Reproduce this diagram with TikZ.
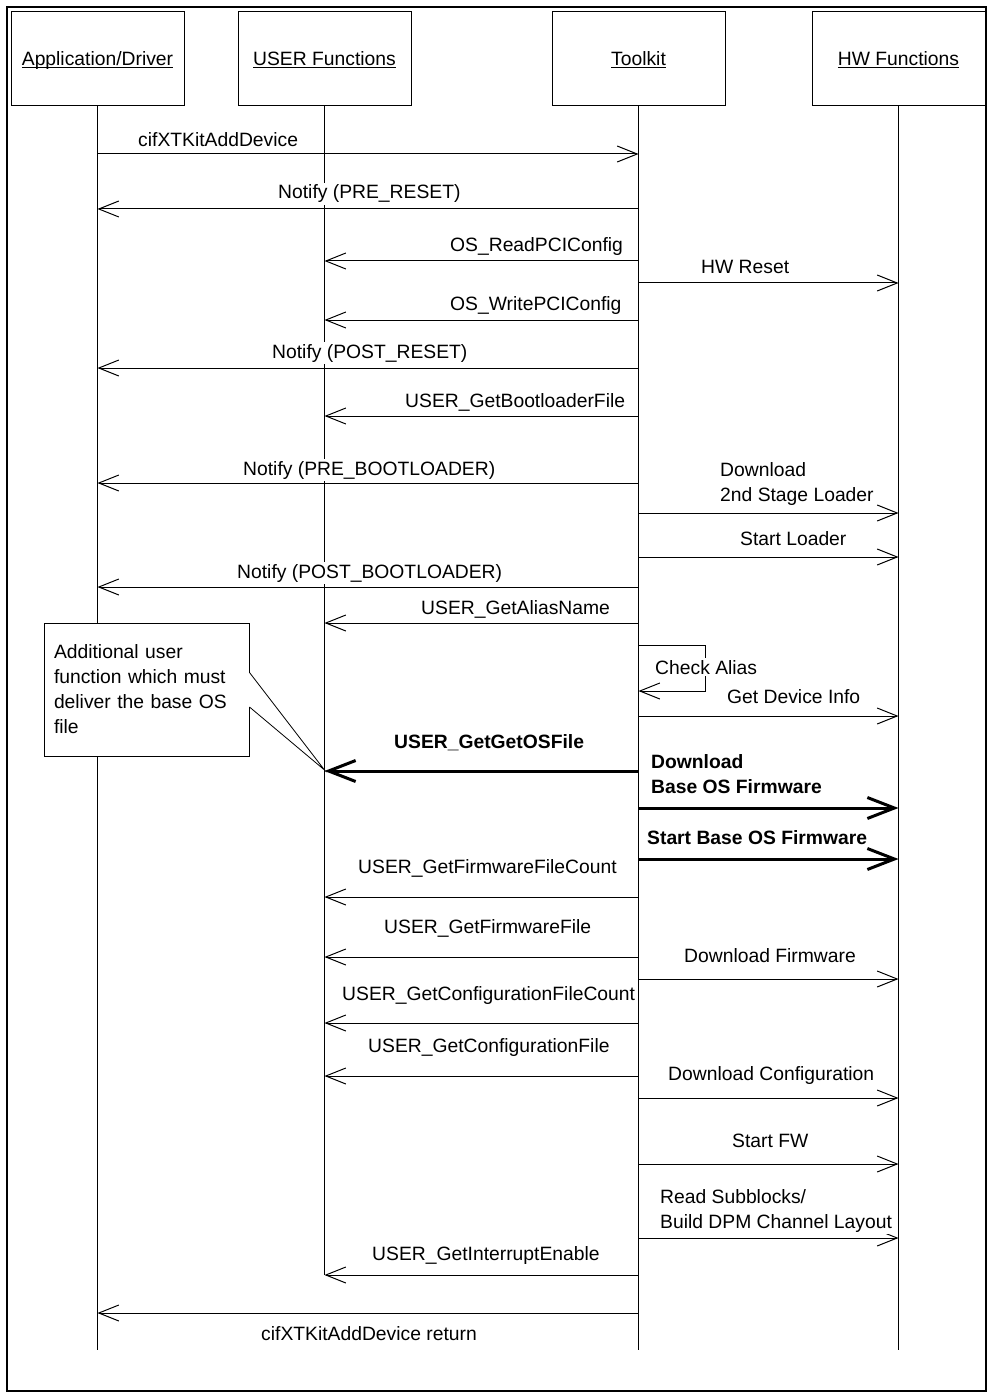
\documentclass[tikz,border=0pt]{standalone}
\usepackage{fontspec}
\setmainfont{Liberation Sans}
\usetikzlibrary{arrows.meta}

\begin{document}
\begin{tikzpicture}[
  x=1pt, y=-1pt,
  every node/.style={font=\fontsize{19.3}{25}\selectfont},
  head/.style={draw, line width=1pt, minimum width=173pt, minimum height=94pt, text height=18pt, text depth=4pt, inner sep=0pt},
  life/.style={line width=1pt},
  msg/.style={line width=1pt, -{Straight Barb[length=20pt,width=16pt]}},
  bigmsg/.style={line width=3pt, -{Straight Barb[length=27pt,width=21pt]}},
  lbl/.style={fill=white, inner xsep=1pt, inner ysep=2pt, anchor=base west, align=left},
  blbl/.style={lbl, font=\fontsize{19.3}{25}\selectfont\bfseries},
  notebox/.style={draw, line width=1pt, fill=white, minimum width=205pt, minimum height=133pt, text width=185pt, inner xsep=10pt, align=left}
]
\useasboundingbox (0,0) rectangle (990,1396);
\draw[line width=2.5pt] (7,7) rectangle (986,1391);

% participants
\node[head] (app) at (97.5,59) {\underline{\smash{Application/Driver}}};
\node[head] (usr) at (324.5,59) {\underline{\smash{USER Functions}}};
\node[head] (tk) at (638.5,59) {\underline{\smash{Toolkit}}};
\node[head] (hw) at (898.5,59) {\underline{\smash{HW Functions}}};

% lifelines
\draw[life] (app.south) -- (app.south |- 0,1350);
\draw[life] (usr.south) -- (usr.south |- 0,1275);
\draw[life] (tk.south) -- (tk.south |- 0,1350);
\draw[life] (hw.south) -- (hw.south |- 0,1350);

% comment box
\node[notebox] (note) at (146.5,689.5) {Additional user\\function which must\\deliver the base OS\\file};
\coordinate (tip) at (usr |- 0,770);
\fill[white] (note.north east) ++(-1.5,50) rectangle ++(3,34);
\draw[line width=0.8pt] (note.north east) ++(0,50) -- (tip) -- ++(-75,-63);

% messages
\draw[msg] (app |- 0,154) -- (tk |- 0,154);
\node[lbl] (addDev) at (137,147) {cifXTKitAddDevice};
\draw[msg] (tk |- 0,209) -- (app |- 0,209);
\node[lbl] (preReset) at (277,199) {Notify (PRE\_RESET)};
\draw[msg] (tk |- 0,261) -- (usr |- 0,261);
\node[lbl] (readPci) at (449,252) {OS\_ReadPCIConfig};
\draw[msg] (tk |- 0,283) -- (hw |- 0,283);
\node[lbl] (hwReset) at (700,274) {HW Reset};
\draw[msg] (tk |- 0,320) -- (usr |- 0,320);
\node[lbl] (writePci) at (449,311) {OS\_WritePCIConfig};
\draw[msg] (tk |- 0,368) -- (app |- 0,368);
\node[lbl] (postReset) at (271,358) {Notify (POST\_RESET)};
\draw[msg] (tk |- 0,416) -- (usr |- 0,416);
\node[lbl] (getBoot) at (404,407) {USER\_GetBootloaderFile};
\draw[msg] (tk |- 0,483) -- (app |- 0,483);
\node[lbl] (preBoot) at (242,475) {Notify (PRE\_BOOTLOADER)};
\draw[msg] (tk |- 0,513) -- (hw |- 0,513);
\node[lbl] (dlLoader) at (719,501) {Download\\2nd Stage Loader};
\draw[msg] (tk |- 0,557) -- (hw |- 0,557);
\node[lbl] (startLoader) at (739,545) {Start Loader};
\draw[msg] (tk |- 0,587) -- (app |- 0,587);
\node[lbl] (postBoot) at (236,578) {Notify (POST\_BOOTLOADER)};
\draw[msg] (tk |- 0,623) -- (usr |- 0,623);
\node[lbl] (getAlias) at (420,614) {USER\_GetAliasName};
\draw[msg] (tk |- 0,645) -| ++(67,46) -- (tk |- 0,691);
\node[lbl] (checkAlias) at (654,674) {Check Alias};
\draw[msg] (tk |- 0,716) -- (hw |- 0,716);
\node[lbl] (devInfo) at (726,703) {Get Device Info};
\draw[bigmsg] (tk |- 0,771) -- (usr |- 0,771);
\node[blbl] (getOs) at (393,748) {USER\_GetGetOSFile};
\draw[bigmsg] (tk |- 0,808) -- (hw |- 0,808);
\node[blbl] (dlBase) at (650,793) {Download\\Base OS Firmware};
\draw[bigmsg] (tk |- 0,859) -- (hw |- 0,859);
\node[blbl] (startBase) at (646,844) {Start Base OS Firmware};
\draw[msg] (tk |- 0,897) -- (usr |- 0,897);
\node[lbl] (fwCount) at (357,873) {USER\_GetFirmwareFileCount};
\draw[msg] (tk |- 0,957) -- (usr |- 0,957);
\node[lbl] (fwFile) at (383,933) {USER\_GetFirmwareFile};
\draw[msg] (tk |- 0,979) -- (hw |- 0,979);
\node[lbl] (dlFw) at (683,962) {Download Firmware};
\draw[msg] (tk |- 0,1023) -- (usr |- 0,1023);
\node[lbl] (cfgCount) at (341,1000) {USER\_GetConfigurationFileCount};
\draw[msg] (tk |- 0,1076) -- (usr |- 0,1076);
\node[lbl] (cfgFile) at (367,1052) {USER\_GetConfigurationFile};
\draw[msg] (tk |- 0,1098) -- (hw |- 0,1098);
\node[lbl] (dlCfg) at (667,1080) {Download Configuration};
\draw[msg] (tk |- 0,1164) -- (hw |- 0,1164);
\node[lbl] (startFw) at (731,1147) {Start FW};
\draw[msg] (tk |- 0,1238) -- (hw |- 0,1238);
\node[lbl] (subblocks) at (659,1228) {Read Subblocks/\\Build DPM Channel Layout};
\draw[msg] (tk |- 0,1275) -- (usr |- 0,1275);
\node[lbl] (irqEnable) at (371,1260) {USER\_GetInterruptEnable};
\draw[msg] (tk |- 0,1313) -- (app |- 0,1313);
\node[lbl] (addDevRet) at (260,1340) {cifXTKitAddDevice return};
\end{tikzpicture}
\end{document}
